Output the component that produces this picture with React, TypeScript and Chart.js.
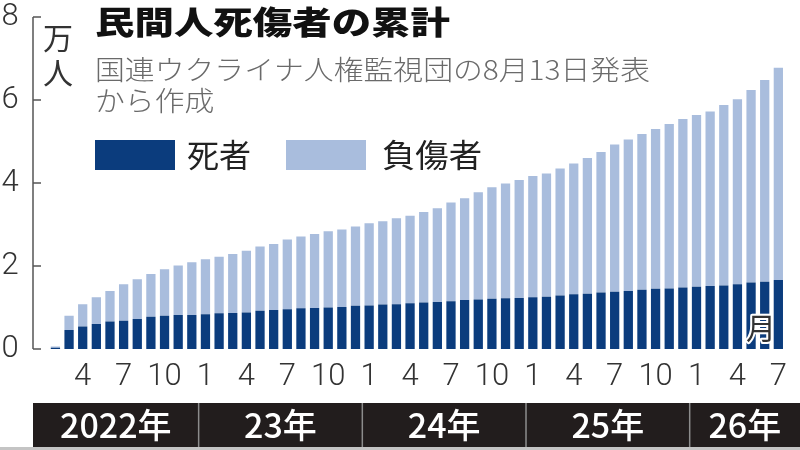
import { useEffect, useRef } from "react"
import { Chart, registerables } from "chart.js"
import type { Plugin } from "chart.js"

Chart.register(...registerables)

// 2022年2月〜26年7月の月ごとの累計（万人）
const months = [
  2, 3, 4, 5, 6, 7, 8, 9, 10, 11, 12,
  1, 2, 3, 4, 5, 6, 7, 8, 9, 10, 11, 12,
  1, 2, 3, 4, 5, 6, 7, 8, 9, 10, 11, 12,
  1, 2, 3, 4, 5, 6, 7, 8, 9, 10, 11, 12,
  1, 2, 3, 4, 5, 6, 7,
]

const deaths = [
  0.03, 0.46, 0.54, 0.6, 0.66, 0.68, 0.72, 0.78, 0.8, 0.82, 0.82,
  0.84, 0.86, 0.87, 0.88, 0.92, 0.94, 0.96, 0.98, 0.99, 1.0, 1.01, 1.04,
  1.05, 1.07, 1.08, 1.1, 1.12, 1.13, 1.15, 1.18, 1.19, 1.21, 1.22, 1.23,
  1.25, 1.26, 1.29, 1.32, 1.33, 1.36, 1.38, 1.4, 1.43, 1.45, 1.46, 1.48,
  1.5, 1.52, 1.53, 1.56, 1.6, 1.62, 1.66,
]

const injured = [
  0.03, 0.34, 0.54, 0.65, 0.74, 0.88, 0.96, 1.03, 1.12, 1.19, 1.27,
  1.32, 1.36, 1.42, 1.49, 1.55, 1.59, 1.68, 1.73, 1.78, 1.84, 1.87, 1.91,
  1.98, 2.01, 2.07, 2.11, 2.18, 2.26, 2.38, 2.45, 2.59, 2.69, 2.77, 2.84,
  2.92, 2.97, 3.06, 3.15, 3.27, 3.39, 3.55, 3.65, 3.75, 3.85, 3.96, 4.06,
  4.14, 4.2, 4.35, 4.46, 4.64, 4.86, 5.12,
]

const tickMonths = [1, 4, 7, 10]
const yTicks = [0, 2, 4, 6, 8]
const yearLabels = ["2022年", "23年", "24年", "25年", "26年"]
const yearStartIndex = [0, 11, 23, 35, 47]

const DARK = "#0b3c7d"
const LIGHT = "#a9bddd"
const JP = "'Noto Sans CJK JP', 'Noto Sans', sans-serif"

// draw text squeezed/stretched to a given width
function fitText(ctx: CanvasRenderingContext2D, text: string, x: number, y: number, width: number) {
  const w = ctx.measureText(text).width
  ctx.save()
  ctx.translate(x, y)
  ctx.scale(width / w, 1)
  ctx.fillText(text, 0, 0)
  ctx.restore()
}

const decorPlugin: Plugin<"bar"> = {
  id: "decor",
  afterDraw(chart) {
    const ctx = chart.ctx
    const xs = chart.scales.x
    const ys = chart.scales.y
    const axisX = 33

    ctx.save()

    // y axis line and inward ticks
    ctx.strokeStyle = "#555"
    ctx.lineWidth = 1.5
    ctx.beginPath()
    ctx.moveTo(axisX, ys.getPixelForValue(8))
    ctx.lineTo(axisX, ys.getPixelForValue(0))
    yTicks.forEach((v) => {
      const y = ys.getPixelForValue(v)
      ctx.moveTo(axisX, y)
      ctx.lineTo(axisX + 8, y)
    })
    ctx.stroke()

    // unit
    ctx.fillStyle = "#333"
    ctx.font = `400 30px ${JP}`
    ctx.textAlign = "center"
    ctx.textBaseline = "middle"
    ctx.fillText("万", 58, 38)
    ctx.fillText("人", 58, 73)

    // title and source
    ctx.textAlign = "left"
    ctx.fillStyle = "#111"
    ctx.font = `900 32px ${JP}`
    fitText(ctx, "民間人死傷者の累計", 95, 22, 355)

    ctx.fillStyle = "#6a6a6a"
    ctx.font = `300 27px ${JP}`
    const line1 = "国連ウクライナ人権監視団の8月13日発表"
    const s = 555 / ctx.measureText(line1).width
    fitText(ctx, line1, 95, 70, 555)
    fitText(ctx, "から作成", 95, 101, ctx.measureText("から作成").width * s)

    // legend
    ctx.fillStyle = DARK
    ctx.fillRect(95, 140, 80, 30)
    ctx.fillStyle = LIGHT
    ctx.fillRect(286, 140, 80, 30)
    ctx.fillStyle = "#222"
    ctx.font = `400 32px ${JP}`
    fitText(ctx, "死者", 187, 155, 64)
    fitText(ctx, "負傷者", 382, 155, 100)

    // 月 label
    ctx.font = `400 30px ${JP}`
    ctx.textAlign = "center"
    ctx.lineJoin = "round"
    ctx.strokeStyle = "#fff"
    ctx.lineWidth = 4
    ctx.strokeText("月", 761, 328)
    ctx.fillStyle = "#333"
    ctx.fillText("月", 761, 328)

    // year band
    const bandTop = 403
    const bandBottom = 447
    ctx.fillStyle = "#221d1d"
    ctx.fillRect(axisX, bandTop, chart.width - axisX, bandBottom - bandTop)
    const edges = yearStartIndex.map((idx, k) =>
      k === 0 ? axisX : (xs.getPixelForValue(idx - 1) + xs.getPixelForValue(idx)) / 2
    )
    edges.push(chart.width)
    ctx.strokeStyle = "#8c8c8c"
    ctx.lineWidth = 1.5
    ctx.beginPath()
    edges.slice(1, -1).forEach((x) => {
      ctx.moveTo(x, bandTop)
      ctx.lineTo(x, bandBottom)
    })
    ctx.stroke()
    ctx.fillStyle = "#fff"
    ctx.font = `500 34px ${JP}`
    yearLabels.forEach((label, k) => {
      ctx.fillText(label, (edges[k] + edges[k + 1]) / 2, 425)
    })

    // paper edge
    ctx.fillStyle = "#c4c4c4"
    ctx.fillRect(0, bandBottom, chart.width, chart.height - bandBottom)

    ctx.restore()
  },
}

export default function App() {
  const canvasRef = useRef<HTMLCanvasElement>(null)
  const chartRef = useRef<Chart<"bar"> | null>(null)

  useEffect(() => {
    if (!canvasRef.current) return
    if (chartRef.current) chartRef.current.destroy()

    chartRef.current = new Chart(canvasRef.current, {
      type: "bar",
      data: {
        labels: months.map(String),
        datasets: [
          {
            label: "死者",
            data: deaths,
            backgroundColor: DARK,
            borderWidth: 0,
            barPercentage: 0.68,
            categoryPercentage: 1,
          },
          {
            label: "負傷者",
            data: injured,
            backgroundColor: LIGHT,
            borderWidth: 0,
            barPercentage: 0.68,
            categoryPercentage: 1,
          },
        ],
      },
      options: {
        animation: false,
        responsive: true,
        maintainAspectRatio: false,
        layout: { padding: { top: 17, right: 6, left: 0, bottom: 0 } },
        plugins: {
          legend: { display: false },
          tooltip: { enabled: false },
        },
        scales: {
          x: {
            stacked: true,
            grid: { display: false, drawTicks: false },
            border: { display: false },
            afterFit: (scale) => {
              scale.height = 101
            },
            ticks: {
              autoSkip: false,
              maxRotation: 0,
              padding: 13,
              color: "#333",
              font: { family: "Roboto, 'Noto Sans', sans-serif", size: 31, weight: 300, lineHeight: 1 },
              callback: (_v, i) => (tickMonths.includes(months[i]) ? String(months[i]) : ""),
            },
          },
          y: {
            stacked: true,
            min: 0,
            max: 8,
            grid: { display: false, drawTicks: false },
            border: { display: false },
            afterFit: (scale) => {
              scale.width = 48.6
              scale.paddingTop = 0
              scale.paddingBottom = 0
            },
            ticks: {
              stepSize: 2,
              padding: 30,
              color: "#333",
              font: { family: "Roboto, 'Noto Sans', sans-serif", size: 31, weight: 300, lineHeight: 1 },
            },
          },
        },
      },
      plugins: [decorPlugin],
    })

    return () => {
      if (chartRef.current) {
        chartRef.current.destroy()
        chartRef.current = null
      }
    }
  }, [])

  return (
    <div style={{ position: "fixed", left: 0, top: 0, width: 800, height: 450, background: "#fff" }}>
      <canvas ref={canvasRef}></canvas>
    </div>
  )
}
